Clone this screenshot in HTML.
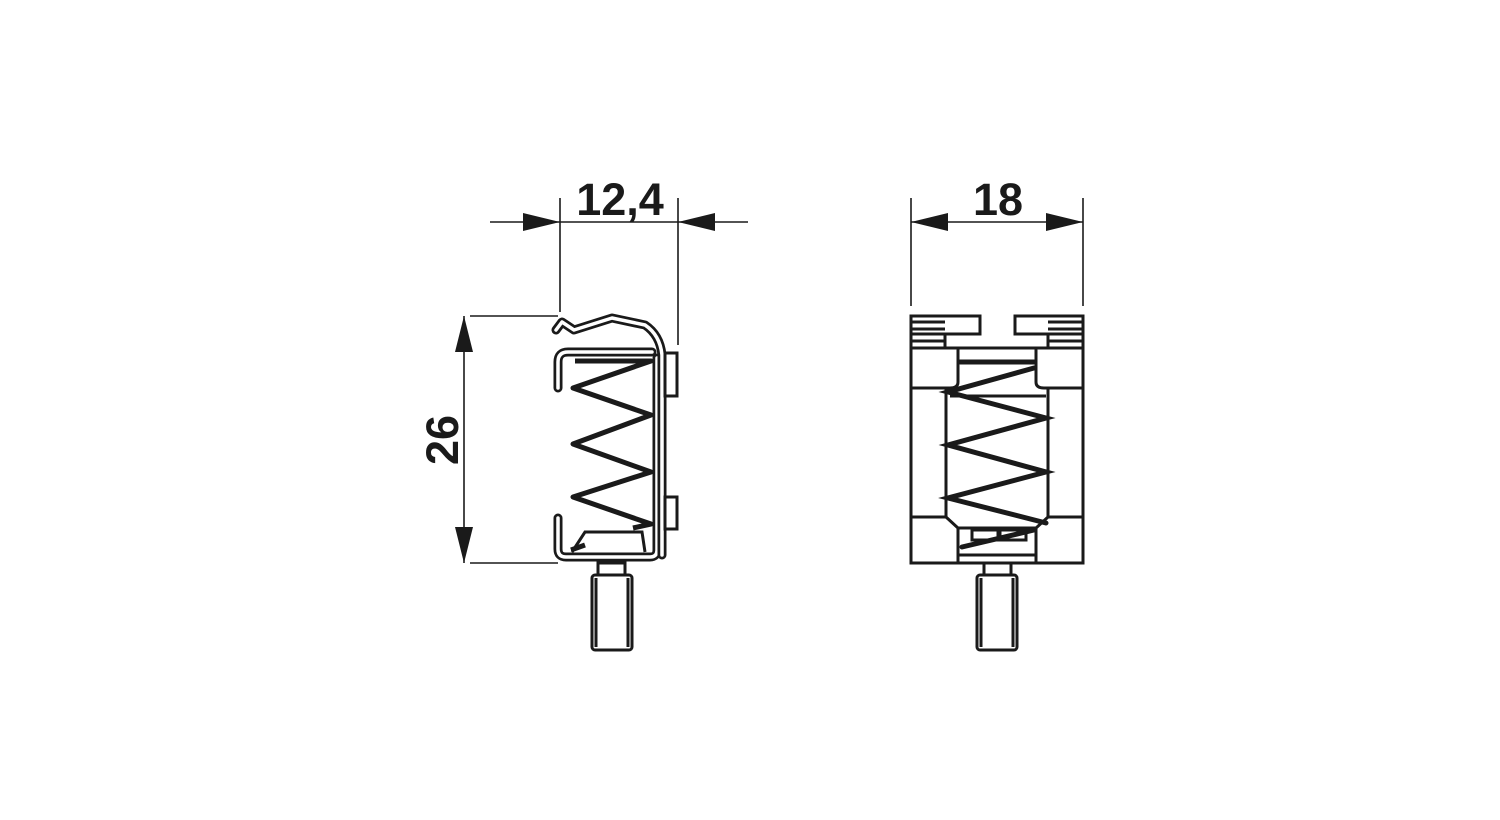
<!DOCTYPE html>
<html><head><style>html,body{margin:0;padding:0;background:#fff;}svg{display:block}</style></head>
<body>
<svg width="1500" height="820" viewBox="0 0 1500 820" xmlns="http://www.w3.org/2000/svg">
<g stroke="#1a1a1a" fill="none" stroke-width="1.6">
  <line x1="470" y1="316" x2="558" y2="316"/>
  <line x1="470" y1="563" x2="558" y2="563"/>
  <line x1="464" y1="316" x2="464" y2="563"/>
  <line x1="560" y1="198" x2="560" y2="312"/>
  <line x1="678" y1="198" x2="678" y2="345"/>
  <line x1="490" y1="222" x2="748" y2="222"/>
  <line x1="911" y1="198" x2="911" y2="306"/>
  <line x1="1083" y1="198" x2="1083" y2="306"/>
  <line x1="911" y1="222" x2="1083" y2="222"/>
</g>
<g fill="#1a1a1a">
  <polygon points="464,316 455,352 473,352"/>
  <polygon points="464,563 455,527 473,527"/>
  <polygon points="560,222 523,213 523,231"/>
  <polygon points="678,222 715,213 715,231"/>
  <polygon points="911,222 948,213 948,231"/>
  <polygon points="1083,222 1046,213 1046,231"/>
</g>
<g font-family="Liberation Sans, sans-serif" font-weight="bold" font-size="45" fill="#1a1a1a" text-anchor="middle">
  <text x="620" y="215">12,4</text>
  <text x="998" y="215">18</text>
  <text transform="translate(458,440) rotate(-90)">26</text>
</g>
<g stroke-linejoin="round" stroke-linecap="round" fill="none">
  <path d="M558,388 L558,362 Q558,352 568,352 L652,352 M657,358 L657,550 Q657,557 650,557 L566,557 Q558,557 558,549 L558,518" stroke="#1a1a1a" stroke-width="9"/>
  <path d="M558,388 L558,362 Q558,352 568,352 L652,352 M657,358 L657,550 Q657,557 650,557 L566,557 Q558,557 558,549 L558,518" stroke="#fff" stroke-width="3.5"/>
  <path d="M556,330 L562,322 L574,330 L612,318 L645,325 Q660,335 662,355 L662,555" stroke="#1a1a1a" stroke-width="9"/>
  <path d="M556,330 L562,322 L574,330 L612,318 L645,325 Q660,335 662,355 L662,555" stroke="#fff" stroke-width="3.5"/>
</g>
<g stroke="#1a1a1a" stroke-width="3" fill="#fff">
  <rect x="665" y="353" width="12" height="43"/>
  <rect x="665" y="497" width="12" height="32"/>
  <rect x="592" y="575" width="40" height="75" rx="3"/>
  <rect x="598" y="563" width="27" height="12"/>
  <line x1="596" y1="578" x2="596" y2="647"/>
  <line x1="628" y1="578" x2="628" y2="647"/>
  <path d="M572,552 L585,532 L642,532 L645,552" />
</g>
<g stroke="#1a1a1a" stroke-width="5" fill="none" stroke-linejoin="round">
  <polyline points="575,361 651,361 573,388 651,415 573,444 651,472 573,497 651,524 633,528"/>
  <line x1="571" y1="550" x2="585" y2="545"/>
</g>
<g stroke="#1a1a1a" stroke-width="3" fill="#fff">
  <rect x="911" y="348" width="172" height="215"/>
  <rect x="911" y="316" width="69" height="18"/>
  <rect x="1015" y="316" width="68" height="18"/>
  <line x1="911" y1="322" x2="945" y2="322"/><line x1="911" y1="329" x2="945" y2="329"/>
  <line x1="1048" y1="322" x2="1083" y2="322"/><line x1="1048" y1="329" x2="1083" y2="329"/>
  <line x1="911" y1="334" x2="911" y2="348"/><line x1="1083" y1="334" x2="1083" y2="348"/>
  <line x1="945" y1="334" x2="945" y2="348"/><line x1="1048" y1="334" x2="1048" y2="348"/>
  <line x1="911" y1="341" x2="945" y2="341"/><line x1="1048" y1="341" x2="1083" y2="341"/>
  <path d="M958,348 L958,382 Q958,388 950,388 L911,388"/>
  <path d="M1036,348 L1036,382 Q1036,388 1044,388 L1083,388"/>
  <line x1="946" y1="388" x2="946" y2="517"/>
  <line x1="1048" y1="388" x2="1048" y2="517"/>
  <line x1="911" y1="517" x2="946" y2="517"/>
  <line x1="1048" y1="517" x2="1083" y2="517"/>
  <path d="M946,517 L958,528 L958,563 M1048,517 L1036,528 L1036,563"/>
  <line x1="958" y1="528" x2="1036" y2="528"/>
  <line x1="958" y1="555" x2="1036" y2="555"/>
  <line x1="950" y1="396" x2="1046" y2="396"/>
  <rect x="977" y="575" width="40" height="75" rx="3"/>
  <rect x="984" y="563" width="27" height="12"/>
  <line x1="981" y1="578" x2="981" y2="647"/>
  <line x1="1013" y1="578" x2="1013" y2="647"/>
  <rect x="972" y="530" width="26" height="10"/>
  <rect x="1000" y="530" width="26" height="10"/>
</g>
<g stroke="#1a1a1a" stroke-width="5" fill="none" stroke-linecap="round">
  <line x1="960" y1="362" x2="1034" y2="362"/>
  <polyline points="1034,368 948,392 1046,418 948,445 1046,472 948,498 1046,523"/>
  <line x1="1034" y1="530" x2="962" y2="547"/>
</g>
</svg>
</body></html>
